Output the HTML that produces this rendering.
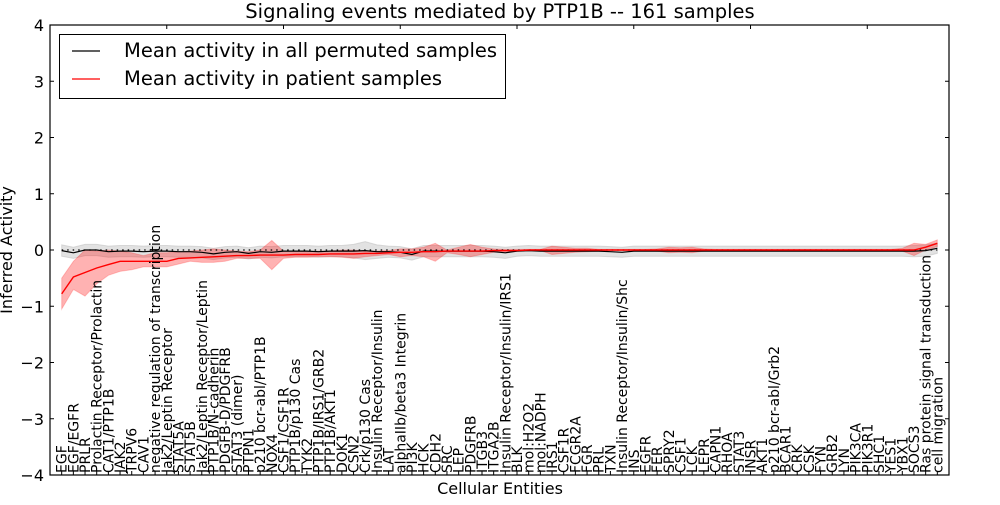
<!DOCTYPE html>
<html><head><meta charset="utf-8"><style>
body{margin:0;background:#fff;}
svg text{font-family:"DejaVu Sans","Liberation Sans",sans-serif;}
</style></head><body>
<svg id="chart" width="1000" height="500" xmlns="http://www.w3.org/2000/svg">
<rect width="1000" height="500" fill="#fff"/>
<text x="500" y="18" text-anchor="middle" font-size="19.5">Signaling events mediated by PTP1B -- 161 samples</text>
<g id="bands"></g>
<g id="lines"></g>
<g id="xlabels"></g>
<g id="yaxis"></g>
<rect x="50" y="25" width="899" height="450" fill="none" stroke="#000" stroke-width="1.2"/>
<text x="12" y="250" text-anchor="middle" font-size="16" transform="rotate(-90 12 250)">Inferred Activity</text>
<text x="500" y="494" text-anchor="middle" font-size="16">Cellular Entities</text>
<g>
<rect x="59.5" y="34.5" width="446" height="64" fill="#fff" stroke="#000" stroke-width="1"/>
<line x1="72" y1="51" x2="100" y2="51" stroke="#000" stroke-width="1.3"/>
<text x="124" y="57" font-size="19.5">Mean activity in all permuted samples</text>
<line x1="72" y1="79" x2="100" y2="79" stroke="#f00" stroke-width="1.3"/>
<text x="124" y="85" font-size="19.5">Mean activity in patient samples</text>
</g>
</svg>
<script>
const categories=["EGF","EGF/EGFR","PRLR","Prolactin Receptor/Prolactin","CAT1/PTP1B","JAK2","TRPV6","CAV1","negative regulation of transcription","Jak2/Leptin Receptor","STAT5A","STAT5B","Jak2/Leptin Receptor/Leptin","PTP1B/N-cadherin","PDGFB-D/PDGFRB","STAT3 (dimer)","PTPN1","p210 bcr-abl/PTP1B","NOX4","CSF1/CSF1R","PTP1B/p130 Cas","TYK2","PTP1B/IRS1/GRB2","PTP1B/AKT1","DOK1","CSN2","Crk/p130 Cas","Insulin Receptor/Insulin","LAT","alphaIIb/beta3 Integrin","PI3K","HCK","CDH2","SRC","LEP","PDGFRB","ITGB3","ITGA2B","Insulin Receptor/Insulin/IRS1","BLK","mol:H2O2","mol:NADPH","IRS1","CSF1R","FCGR2A","FGR","PRL","TXN","Insulin Receptor/Insulin/Shc","INS","EGFR","FER","SPRY2","CSF1","LCK","LEPR","CAPN1","RHOA","STAT3","INSR","AKT1","p210 bcr-abl/Grb2","BCAR1","CRK","CSK","FYN","GRB2","LYN","PIK3CA","PIK3R1","SHC1","YES1","YBX1","SOCS3","Ras protein signal transduction","cell migration"];
const patientMean=[-0.78,-0.48,-0.4,-0.32,-0.26,-0.2,-0.2,-0.2,-0.2,-0.2,-0.15,-0.14,-0.13,-0.12,-0.11,-0.1,-0.1,-0.09,-0.09,-0.09,-0.08,-0.08,-0.08,-0.07,-0.07,-0.07,-0.06,-0.06,-0.05,-0.04,-0.04,-0.03,-0.03,-0.02,-0.02,-0.02,-0.02,-0.01,-0.01,-0.01,0,0,0,0,0,0,0,0,0,0,0,0,0,0,0,0,0,0,0,0,0,0,0,0,0,0,0,0,0,0,0,0,0,0,0.05,0.12];
const patientLow=[-1.05,-0.7,-0.82,-0.6,-0.45,-0.38,-0.35,-0.3,-0.3,-0.3,-0.25,-0.2,-0.22,-0.22,-0.2,-0.15,-0.15,-0.15,-0.35,-0.15,-0.13,-0.13,-0.12,-0.12,-0.13,-0.15,-0.12,-0.1,-0.08,-0.12,-0.1,-0.12,-0.2,-0.05,-0.08,-0.12,-0.08,-0.04,-0.03,-0.02,-0.01,-0.01,-0.08,-0.06,-0.04,-0.03,-0.02,-0.01,-0.01,-0.01,-0.01,-0.02,-0.05,-0.04,-0.05,-0.02,-0.01,-0.01,-0.01,-0.01,-0.01,-0.01,-0.01,-0.01,-0.01,-0.01,-0.01,-0.01,-0.01,-0.01,-0.01,-0.01,-0.02,-0.1,0.0,0.06];
const patientHigh=[-0.5,-0.2,0.0,-0.02,0.0,-0.02,-0.05,-0.1,-0.05,-0.05,-0.03,-0.02,0.0,0.02,0.0,-0.02,-0.03,0.0,0.17,-0.02,-0.02,-0.03,-0.02,-0.02,0.0,0.0,-0.02,-0.02,-0.01,0.02,0.02,0.05,0.12,0.0,0.05,0.1,0.05,0.02,0.01,0.01,0.01,0.01,0.07,0.05,0.03,0.03,0.01,0.01,0.01,0.01,0.01,0.02,0.05,0.04,0.05,0.02,0.01,0.01,0.01,0.01,0.01,0.01,0.01,0.01,0.01,0.01,0.01,0.01,0.01,0.01,0.01,0.01,0.03,0.12,0.1,0.18];
const permMean=[-0.01,-0.05,0,0,-0.03,-0.02,-0.02,-0.03,-0.02,-0.02,-0.03,-0.03,-0.04,-0.07,-0.04,-0.03,-0.06,-0.03,-0.04,-0.02,-0.02,-0.02,-0.03,-0.02,-0.02,-0.02,-0.01,-0.03,-0.03,-0.04,-0.08,-0.02,-0.02,-0.02,-0.02,-0.02,-0.02,-0.03,-0.05,-0.02,-0.01,-0.02,-0.02,-0.02,-0.02,-0.02,-0.02,-0.03,-0.04,-0.02,-0.02,-0.02,-0.02,-0.02,-0.02,-0.02,-0.02,-0.02,-0.02,-0.02,-0.02,-0.02,-0.02,-0.02,-0.02,-0.02,-0.02,-0.02,-0.02,-0.02,-0.02,-0.02,-0.02,-0.02,-0.01,0.03];
const permSpread=[0.1,0.1,0.1,0.1,0.1,0.1,0.1,0.1,0.1,0.1,0.1,0.1,0.1,0.1,0.1,0.1,0.1,0.1,0.1,0.1,0.1,0.1,0.1,0.1,0.1,0.12,0.16,0.12,0.1,0.1,0.1,0.1,0.1,0.1,0.1,0.1,0.1,0.1,0.1,0.09,0.09,0.09,0.09,0.09,0.09,0.09,0.09,0.09,0.09,0.09,0.09,0.09,0.09,0.09,0.09,0.09,0.09,0.09,0.09,0.09,0.09,0.09,0.09,0.09,0.09,0.09,0.09,0.09,0.09,0.09,0.09,0.09,0.09,0.1,0.1,0.09];
const yTicks=[-4,-3,-2,-1,0,1,2,3,4];

const NS="http://www.w3.org/2000/svg";
const X0=50,X1=949,Y0=25,Y1=475;
const n=categories.length;
function xs(i){return X0+(i+1)*(X1-X0)/(n+1);}
function ys(v){return Y1-(v+4)*(Y1-Y0)/8;}
function mk(tag,attrs,parent){const e=document.createElementNS(NS,tag);for(const k in attrs)e.setAttribute(k,attrs[k]);parent.appendChild(e);return e;}
const bands=document.getElementById('bands'),lines=document.getElementById('lines'),xl=document.getElementById('xlabels'),ya=document.getElementById('yaxis');
function area(lo,hi){let d='';for(let i=0;i<n;i++)d+=(i?'L':'M')+xs(i).toFixed(1)+','+ys(hi[i]).toFixed(1);for(let i=n-1;i>=0;i--)d+='L'+xs(i).toFixed(1)+','+ys(lo[i]).toFixed(1);return d+'Z';}
function line(v){let d='';for(let i=0;i<n;i++)d+=(i?'L':'M')+xs(i).toFixed(1)+','+ys(v[i]).toFixed(1);return d;}
const pLo=permMean.map((m,i)=>m-permSpread[i]),pHi=permMean.map((m,i)=>m+permSpread[i]);
const gb=mk('path',{d:area(pLo,pHi),fill:'#bfbfbf','fill-opacity':'0.45',stroke:'#bbb','stroke-opacity':'0.5'},bands);


const rb=mk('path',{d:area(patientLow,patientHigh),fill:'#f00','fill-opacity':'0.3',stroke:'#f00','stroke-opacity':'0.2'},bands);


const zl=mk('line',{x1:xs(0),x2:xs(n-1),y1:ys(0),y2:ys(0),stroke:'#000','stroke-dasharray':'1.5,4','stroke-width':'1.2'},lines);


const bl=mk('path',{d:line(permMean),fill:'none',stroke:'#000','stroke-width':'1.2'},lines);


const rl=mk('path',{d:line(patientMean),fill:'none',stroke:'#f00','stroke-width':'1.4'},lines);


categories.forEach((c,i)=>{
  const x=xs(i);
  const t=mk('text',{x:0,y:0,'font-size':'14','text-anchor':'start',transform:'translate('+(x+5)+',473) rotate(-90)'},xl);
  t.textContent=c;
  
  
  mk('line',{x1:x,x2:x,y1:Y1,y2:Y1-4,stroke:'#000'},xl);
});
for(let k=9;k<n;k+=10){const x=xs(k);mk('line',{x1:x,x2:x,y1:Y0,y2:Y0+4,stroke:'#000'},xl);}
yTicks.forEach(v=>{
  const y=ys(v);
  mk('line',{x1:X0,x2:X0+4,y1:y,y2:y,stroke:'#000'},ya);
  mk('line',{x1:X1,x2:X1-4,y1:y,y2:y,stroke:'#000'},ya);
  const t=mk('text',{x:X0-6,y:y+6,'font-size':'16','text-anchor':'end'},ya);
  t.textContent=(v<0?'\u2212'+(-v):String(v));
  
  
});
</script>
</body></html>
